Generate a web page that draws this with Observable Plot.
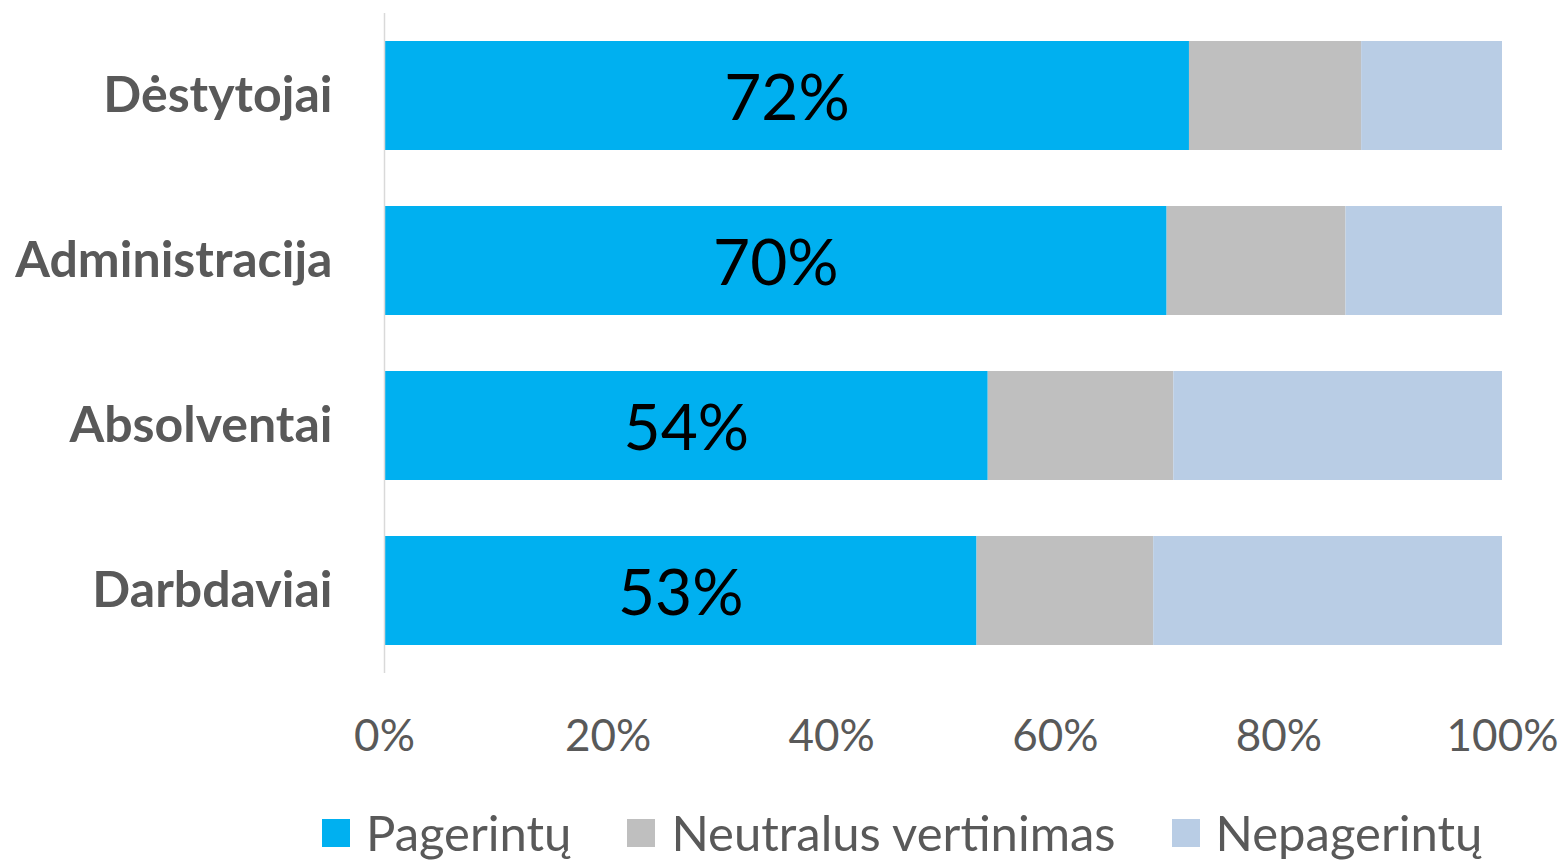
<!DOCTYPE html>
<html>
<head>
<meta charset="utf-8">
<script src="https://cdn.jsdelivr.net/npm/d3@7"></script>
<script src="https://cdn.jsdelivr.net/npm/@observablehq/plot@0.6"></script>
<style>
  html, body { margin: 0; padding: 0; background: #fff; }
  #wrap { position: relative; width: 1561px; height: 864px; overflow: hidden; font-family: Lato, "Open Sans", sans-serif; }
  #legend { position: absolute; left: 322px; top: 806px; display: flex; align-items: center; color: #595959; font-size: 49px; line-height: 1.1; white-space: nowrap; }
  .item { display: flex; align-items: center; margin-right: 56px; }
  .sw { width: 28px; height: 28px; margin-right: 16px; }
</style>
</head>
<body>
<div id="wrap"><div id="chart"></div><div id="legend"></div></div>
<script>
const categories = ["Dėstytojai", "Administracija", "Absolventai", "Darbdaviai"];
const seriesNames = ["Pagerintų", "Neutralus vertinimas", "Nepagerintų"];
const pagerintu = [72, 70, 54, 53];
const neutralus = [15.4, 16, 16.6, 15.8];
const nepagerintu = [12.6, 14, 29.4, 31.2];
const xTicks = [0, 20, 40, 60, 80, 100];
const colors = ["#00B0F0", "#BFBFBF", "#B9CDE5"];

const seriesValues = [pagerintu, neutralus, nepagerintu];
const rows = [];
categories.forEach((c, i) => {
  seriesNames.forEach((s, j) => rows.push({category: c, series: s, value: seriesValues[j][i]}));
});
const labels = categories.map((c, i) => ({category: c, value: pagerintu[i]}));

const chart = Plot.plot({
  width: 1561,
  height: 800,
  marginLeft: 384,
  marginRight: 59,
  marginTop: 13,
  marginBottom: 127,
  style: {fontFamily: "Lato, 'Open Sans', sans-serif", background: "#fff"},
  x: {domain: [0, 100], axis: null, label: null},
  y: {domain: categories, paddingInner: 0.34, paddingOuter: 0.17, align: 0.5, axis: null, label: null},
  color: {domain: seriesNames, range: colors},
  marks: [
    Plot.barX(rows, Plot.stackX({x: "value", y: "category", fill: "series", order: null, inset: 0})),
    Plot.ruleX([0], {stroke: "#D9D9D9", strokeWidth: 1.5}),
    Plot.text(labels, {x: d => d.value / 2, y: "category", text: d => d.value + "%", fontSize: 64, fill: "#000", dy: 4}),
    Plot.axisY({tickSize: 0, tickPadding: 52, fontSize: 50, fontWeight: "bold", fill: "#595959", label: null}),
    Plot.axisX({ticks: xTicks, tickSize: 0, tickPadding: 46, fontSize: 44, fill: "#595959", tickFormat: d => d + "%", label: null})
  ]
});
document.getElementById("chart").appendChild(chart);

const legend = document.getElementById("legend");
seriesNames.forEach((s, j) => {
  const it = document.createElement("div");
  it.className = "item";
  const sw = document.createElement("div");
  sw.className = "sw";
  sw.style.background = colors[j];
  const t = document.createElement("span");
  t.textContent = s;
  it.appendChild(sw); it.appendChild(t);
  legend.appendChild(it);
});
</script>
</body>
</html>
